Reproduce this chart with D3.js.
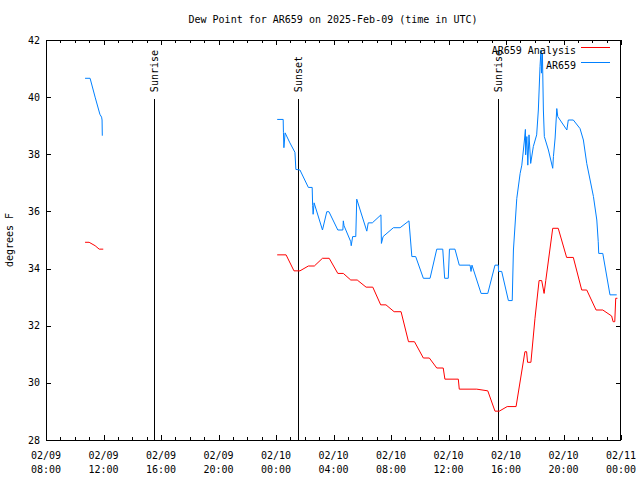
<!DOCTYPE html>
<html><head><meta charset="utf-8">
<script src="https://cdn.jsdelivr.net/npm/d3@7"></script>
<style>
body{margin:0;background:#fff;}
text{font-family:"DejaVu Sans Mono","Liberation Mono",monospace;font-size:10px;fill:#000;}
</style></head>
<body><svg id="c" width="640" height="480"></svg>
<script>
const title = "Dew Point for AR659 on 2025-Feb-09 (time in UTC)";
const yLabel = "degrees F";
const seriesNames = ["AR659 Analysis", "AR659"];
const seriesColors = ["#ff0000", "#0080ff"];
const yTicks = [28, 30, 32, 34, 36, 38, 40, 42];

// Analysis (red). null marks a gap.
const analysisTimes = ["02-09 10:43","02-09 11:00","02-09 11:25","02-09 11:42","02-09 11:59",null,
"02-10 00:05","02-10 00:42","02-10 01:15","02-10 01:40","02-10 02:15","02-10 02:40","02-10 03:14","02-10 03:42",
"02-10 04:18","02-10 04:41","02-10 05:12","02-10 05:39","02-10 06:16","02-10 06:44","02-10 07:17","02-10 07:39",
"02-10 08:13","02-10 08:42","02-10 09:13","02-10 09:38","02-10 10:15","02-10 10:40","02-10 11:11","02-10 11:38",
"02-10 11:45","02-10 12:41","02-10 12:45","02-10 13:58","02-10 14:44","02-10 15:14","02-10 15:32","02-10 16:05",
"02-10 16:42","02-10 17:19","02-10 17:26","02-10 17:30","02-10 17:44","02-10 18:01","02-10 18:18","02-10 18:29",
"02-10 18:39","02-10 18:46","02-10 19:15","02-10 19:38","02-10 20:13","02-10 20:41","02-10 21:16","02-10 21:37",
"02-10 22:16","02-10 22:44","02-10 23:21","02-10 23:27","02-10 23:34","02-10 23:38","02-10 23:45"];
const analysisValues = [34.92,34.92,34.8,34.68,34.68,null,
34.48,34.48,33.92,33.92,34.09,34.09,34.36,34.36,
33.83,33.83,33.6,33.6,33.35,33.35,32.73,32.73,
32.49,32.49,31.44,31.44,30.87,30.87,30.52,30.52,
30.13,30.13,29.78,29.78,29.72,29.01,29.01,29.17,
29.17,31.09,31.09,30.72,30.72,32.26,33.58,33.58,
33.13,33.58,35.41,35.41,34.39,34.39,33.25,33.25,
32.55,32.55,32.34,32.14,32.14,32.96,32.96];

// Observations (blue)
const obsTimes = ["02-09 10:43","02-09 11:04","02-09 11:25","02-09 11:45","02-09 11:52","02-09 11:54","02-09 11:55",null,
"02-10 00:05","02-10 00:30","02-10 00:31","02-10 00:33","02-10 00:38","02-10 00:58","02-10 01:19","02-10 01:23",
"02-10 01:40","02-10 02:15","02-10 02:31","02-10 02:33","02-10 02:35","02-10 02:39","02-10 03:14","02-10 03:32",
"02-10 03:41","02-10 04:18","02-10 04:39","02-10 04:41","02-10 04:44","02-10 05:12","02-10 05:14","02-10 05:20",
"02-10 05:33","02-10 05:37","02-10 06:19","02-10 06:25","02-10 06:42","02-10 07:18","02-10 07:20","02-10 07:27",
"02-10 08:10","02-10 08:38","02-10 09:15","02-10 09:27","02-10 09:43","02-10 10:15","02-10 10:43","02-10 11:11",
"02-10 11:36","02-10 11:44","02-10 11:59","02-10 12:04","02-10 12:27","02-10 12:45","02-10 13:30","02-10 13:34",
"02-10 13:38","02-10 14:16","02-10 14:44","02-10 15:14","02-10 15:28","02-10 15:29","02-10 15:42","02-10 16:10",
"02-10 16:26","02-10 16:31","02-10 16:45","02-10 16:59","02-10 17:06","02-10 17:17","02-10 17:21","02-10 17:22",
"02-10 17:27","02-10 17:31","02-10 17:36","02-10 17:43","02-10 17:54","02-10 18:08","02-10 18:15","02-10 18:22",
"02-10 18:26","02-10 18:28","02-10 18:32","02-10 18:36","02-10 18:40","02-10 18:57","02-10 19:15","02-10 19:18",
"02-10 19:25","02-10 19:32","02-10 19:36","02-10 20:14","02-10 20:20","02-10 20:41","02-10 21:09","02-10 21:23",
"02-10 21:37","02-10 21:51","02-10 22:05","02-10 22:19","02-10 22:25","02-10 22:27","02-10 22:44","02-10 23:14",
"02-10 23:42"];
const obsValues = [40.66,40.66,40.0,39.4,39.3,39.2,38.65,null,
39.22,39.22,38.77,38.23,38.75,38.4,38.07,37.47,
37.45,36.84,36.84,36.2,35.9,36.3,35.35,35.99,
35.99,35.35,35.35,35.67,35.5,34.94,34.8,35.12,
35.12,36.43,35.31,35.6,35.6,35.88,34.88,35.12,
35.43,35.43,35.67,34.42,34.42,33.66,33.66,34.68,
34.68,33.66,33.66,34.68,34.68,34.12,34.12,33.9,
34.12,33.13,33.13,34.12,34.12,33.9,33.9,32.88,
32.88,34.65,36.45,37.33,37.62,38.5,38.87,37.98,
38.62,37.62,38.68,37.68,38.27,38.68,39.55,41.07,
41.65,40.84,41.53,39.55,38.62,38.15,37.51,37.92,
38.57,39.6,39.32,38.85,39.2,39.2,38.9,38.5,
37.68,37.1,36.52,35.7,34.94,34.53,34.53,33.08,
33.08];

// Sun events
const eventNames = ["Sunrise", "Sunset", "Sunrise"];
const eventTimes = ["02-09 15:30", "02-10 01:32", "02-10 15:28"];

const xStart = "02-09 08:00", xEnd = "02-11 00:00";

const parse = d3.utcParse("%Y-%m-%d %H:%M");
const P = s => s == null ? null : parse("2025-" + s);

const L = 46, R = 621, T = 40, B = 440;
const svg = d3.select("#c");
const x = d3.scaleUtc().domain([P(xStart), P(xEnd)]).range([L, R]);
const y = d3.scaleLinear().domain([28, 42]).range([B, T]);

svg.append("text").attr("x", 333).attr("y", 23).attr("text-anchor", "middle").text(title);

// axes (ticks inward)
const majors = d3.utcHour.every(4).range(P(xStart), new Date(+P(xEnd) + 1));
const minors = d3.utcHour.every(1).range(P(xStart), new Date(+P(xEnd) + 1));
const crisp = g => g.attr("shape-rendering", "crispEdges");

function xAxisG(gen, ty, vals, size) {
  const g = svg.append("g").attr("transform", `translate(0,${ty})`).call(gen(x).tickValues(vals).tickSize(size).tickFormat(""));
  g.select(".domain").remove();
  g.selectAll("line").attr("stroke", "#000");
  crisp(g);
}
xAxisG(d3.axisBottom, B, minors, -3);
xAxisG(d3.axisBottom, B, majors, -5);
xAxisG(d3.axisTop, T, minors, -3);
xAxisG(d3.axisTop, T, majors, -5);

function yAxisG(gen, tx, size) {
  const g = svg.append("g").attr("transform", `translate(${tx},0)`).call(gen(y).tickValues(yTicks).tickSize(size).tickFormat(""));
  g.select(".domain").remove();
  g.selectAll("line").attr("stroke", "#000");
  crisp(g);
}
yAxisG(d3.axisLeft, L, -5);
yAxisG(d3.axisRight, R, -5);

svg.append("rect").attr("x", L + 0.5).attr("y", T + 0.5).attr("width", R - L - 1).attr("height", B - T)
  .attr("fill", "none").attr("stroke", "#000").attr("shape-rendering", "crispEdges");

// tick labels
svg.append("g").selectAll("text").data(yTicks).join("text")
  .attr("x", L - 6).attr("y", d => y(d)).attr("dy", "0.35em").attr("text-anchor", "end").text(d => d);

const f1 = d3.utcFormat("%m/%d"), f2 = d3.utcFormat("%H:%M");
const xl = svg.append("g").selectAll("g").data(majors).join("g").attr("transform", d => `translate(${x(d)},0)`);
xl.append("text").attr("y", 459).attr("text-anchor", "middle").text(f1);
xl.append("text").attr("y", 473).attr("text-anchor", "middle").text(f2);

svg.append("text").attr("transform", `translate(13,${(T + B) / 2}) rotate(-90)`).attr("text-anchor", "middle").text(yLabel);

// sun events
const ev = svg.append("g").selectAll("g").data(eventNames.map((n, i) => ({n, t: P(eventTimes[i])}))).join("g");
ev.append("line").attr("x1", d => Math.round(x(d.t)) + 0.5).attr("x2", d => Math.round(x(d.t)) + 0.5)
  .attr("y1", y(40) + 2).attr("y2", B).attr("stroke", "#000").attr("shape-rendering", "crispEdges");
ev.append("text").attr("transform", d => `translate(${Math.round(x(d.t)) + 4},${y(40) - 5}) rotate(-90)`)
  .attr("text-anchor", "start").text(d => d.n);

// series
const mk = (ts, vs) => ts.map((t, i) => ({t: P(t), v: vs[i]}));
const line = d3.line().defined(d => d.t != null && d.v != null).x(d => x(d.t)).y(d => y(d.v));
const series = [mk(analysisTimes, analysisValues), mk(obsTimes, obsValues)];
series.forEach((s, i) => {
  svg.append("path").datum(s).attr("d", line).attr("fill", "none").attr("stroke", seriesColors[i]).attr("stroke-width", 1);
});

// legend
const lg = svg.append("g").selectAll("g").data(seriesNames).join("g").attr("transform", (d, i) => `translate(0,${47 + i * 15})`);
lg.append("text").attr("x", 576).attr("y", 3).attr("dy", "0.35em").attr("text-anchor", "end").text(d => d);
lg.append("line").attr("x1", 581).attr("x2", 610).attr("y1", 0.5).attr("y2", 0.5)
  .attr("stroke", (d, i) => seriesColors[i]).attr("shape-rendering", "crispEdges");
</script></body></html>
